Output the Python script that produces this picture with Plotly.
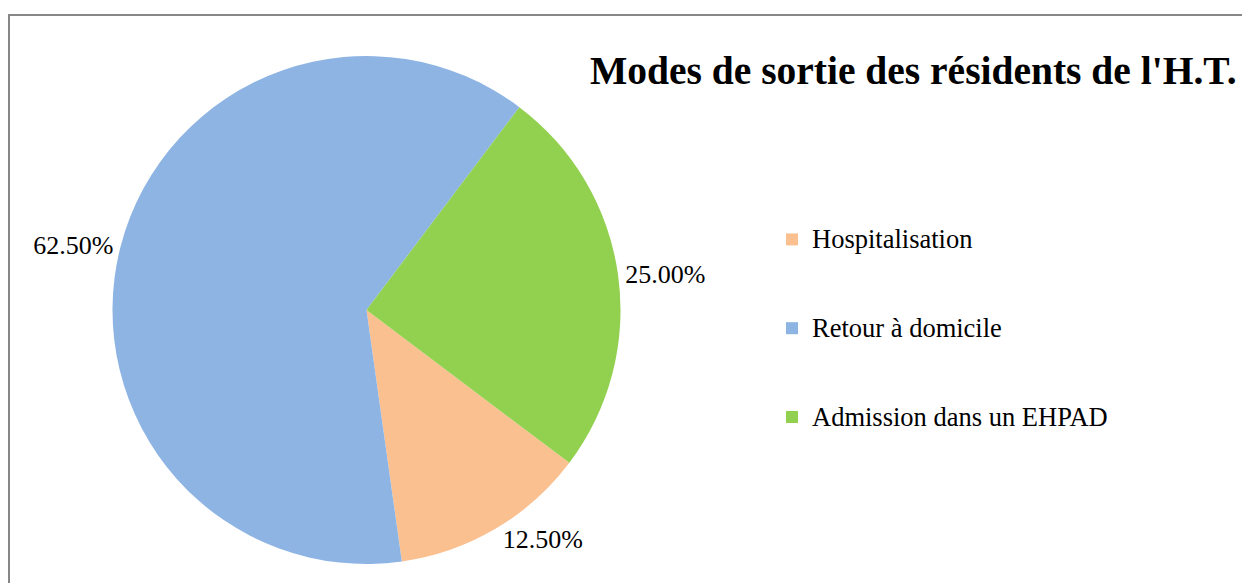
import plotly.graph_objects as go

categories = ["Hospitalisation", "Retour à domicile", "Admission dans un EHPAD"]
values = [12.5, 62.5, 25.0]
colors = ["#FAC090", "#8EB4E3", "#92D050"]
title_text = "Modes de sortie des résidents de l'H.T."

W, H = 1242, 583
FONT = "Liberation Serif, Times New Roman, serif"

# legend label styling (extra blank lines widen the spacing between entries)
legend_labels = ["<br><span style='font-size:26.5px'>%s</span><br>" % c for c in categories]

fig = go.Figure(
    go.Pie(
        labels=legend_labels,
        values=values,
        marker=dict(colors=colors, line=dict(width=0)),
        sort=False,
        direction="clockwise",
        rotation=127,
        textposition="outside",
        texttemplate="%{percent:.2%}",
        textfont=dict(family=FONT, size=26, color="black"),
        hoverinfo="percent",
        domain=dict(x=[112 / W, 621 / W], y=[1 - 564 / H, 1 - 56 / H]),
    )
)

fig.update_layout(
    width=W,
    height=H,
    margin=dict(l=0, r=0, t=0, b=0),
    paper_bgcolor="white",
    plot_bgcolor="white",
    title=dict(
        text="<b>" + title_text + "</b>",
        font=dict(family=FONT, size=39.5, color="black"),
        x=590 / W,
        xanchor="left",
        xref="paper",
        y=1 - 70 / H,
        yanchor="middle",
        yref="paper",
    ),
    legend=dict(
        font=dict(family=FONT, size=22, color="black"),
        x=772 / W,
        xanchor="left",
        y=1 - 190 / H,
        yanchor="top",
        bgcolor="rgba(0,0,0,0)",
        itemwidth=30,
        valign="middle",
    ),
    shapes=[
        dict(
            type="rect",
            xref="paper",
            yref="paper",
            x0=9 / W,
            x1=1.05,
            y0=-0.05,
            y1=1 - 15 / H,
            line=dict(color="#878787", width=2),
            fillcolor="rgba(0,0,0,0)",
            layer="below",
        )
    ],
)

fig.write_html(
    "out.html",
    config={"displayModeBar": False},
    post_script="document.body.style.margin='0';document.body.style.overflow='hidden';",
)
